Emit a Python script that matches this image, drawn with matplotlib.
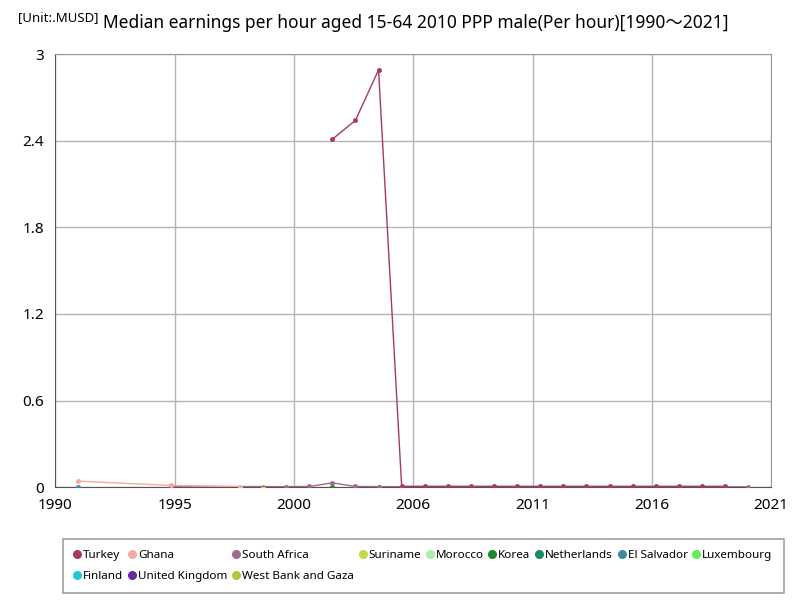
import matplotlib
matplotlib.use('Agg')
import matplotlib.pyplot as plt

plt.rcParams['font.family'] = ['Noto Sans', 'Noto Sans CJK JP', 'DejaVu Sans']

# data
turkey_years = [2002, 2003, 2004, 2005, 2006, 2007, 2008, 2009, 2010, 2011,
                2012, 2013, 2014, 2015, 2016, 2017, 2018, 2019]
turkey_vals = [2.41, 2.54, 2.89, 0.006, 0.006, 0.006, 0.006, 0.006, 0.006, 0.006,
               0.006, 0.006, 0.006, 0.006, 0.006, 0.006, 0.006, 0.006]
ghana_years = [1991, 1995, 1998]
ghana_vals = [0.042, 0.012, 0.004]
safrica_years = [1995, 2000, 2001, 2002, 2003, 2004, 2020]
safrica_vals = [0.005, 0.004, 0.005, 0.03, 0.005, 0.004, 0.003]
suriname_years = [1999]
suriname_vals = [0.003]
morocco_years = [1998]
morocco_vals = [0.002]
korea_years = [2002]
korea_vals = [0.002]
netherlands_years = [2002]
netherlands_vals = [0.002]
elsalvador_years = [1991]
elsalvador_vals = [0.002]
luxembourg_years = [2005]
luxembourg_vals = [0.002]
finland_years = [2004]
finland_vals = [0.002]
uk_years = [2003]
uk_vals = [0.002]
wbg_years = [1999]
wbg_vals = [0.002]

series = [
    ('Turkey', turkey_years, turkey_vals, '#a83a5e'),
    ('Ghana', ghana_years, ghana_vals, '#f2aaa2'),
    ('South Africa', safrica_years, safrica_vals, '#a06a8e'),
    ('Suriname', suriname_years, suriname_vals, '#c6d844'),
    ('Morocco', morocco_years, morocco_vals, '#a8f0a4'),
    ('Korea', korea_years, korea_vals, '#1c8a2c'),
    ('Netherlands', netherlands_years, netherlands_vals, '#1a8c62'),
    ('El Salvador', elsalvador_years, elsalvador_vals, '#3a8aa2'),
    ('Luxembourg', luxembourg_years, luxembourg_vals, '#62ee52'),
    ('Finland', finland_years, finland_vals, '#22c8d8'),
    ('United Kingdom', uk_years, uk_vals, '#6a2aa8'),
    ('West Bank and Gaza', wbg_years, wbg_vals, '#b2c840'),
]

fig = plt.figure(figsize=(8, 6), dpi=100)
ax = fig.add_axes([0.069, 0.188, 0.895, 0.722])

handles = []
for i, (name, xs, ys, col) in enumerate(series):
    h, = ax.plot(xs, ys, color=col, lw=1, marker='o', ms=2.5, label=name,
                 zorder=20 - i)
    handles.append(h)

ax.set_xlim(1990, 2021)
ax.set_ylim(0, 3)
xt = [1990 + 31 / 6 * k for k in range(7)]
ax.set_xticks(xt)
ax.set_xticklabels([str(round(v)) for v in xt], fontsize=11, fontweight='bold')
yt = [0, 0.6, 1.2, 1.8, 2.4, 3]
ax.set_yticks(yt)
ax.set_yticklabels(['0', '0.6', '1.2', '1.8', '2.4', '3'], fontsize=11, fontweight='bold')
ax.tick_params(length=0, pad=8)
ax.grid(True, color='#b4b4b4', lw=1)
ax.set_axisbelow(True)
for s in ['top', 'right']:
    ax.spines[s].set_color('#999999')
for s in ['left', 'bottom']:
    ax.spines[s].set_color('#555555')

fig.text(0.52, 0.962, 'Median earnings per hour aged 15-64 2010 PPP male(Per hour)[1990～2021]',
         ha='center', va='center', fontsize=12.5)
fig.text(0.022, 0.97, '[Unit:.MUSD]', ha='left', va='center', fontsize=9.5, fontweight='bold')

# reorder so that the legend fills row by row
order = [0, 9, 1, 10, 2, 11, 3, 4, 5, 6, 7, 8]
leg = fig.legend([handles[i] for i in order], [series[i][0] for i in order],
                 loc='upper left', bbox_to_anchor=(0.072, 0.112), ncol=9,
                 fontsize=8.4, frameon=True, fancybox=False, handlelength=0.5,
                 handletextpad=0.25, columnspacing=0.5, borderpad=0.95,
                 labelspacing=0.85)
leg.get_frame().set_edgecolor('#888888')
leg.get_frame().set_linewidth(1.2)
for h in leg.legend_handles:
    h.set_linestyle('none')
    h.set_markersize(5.5)

fig.savefig('out.png', dpi=100)
